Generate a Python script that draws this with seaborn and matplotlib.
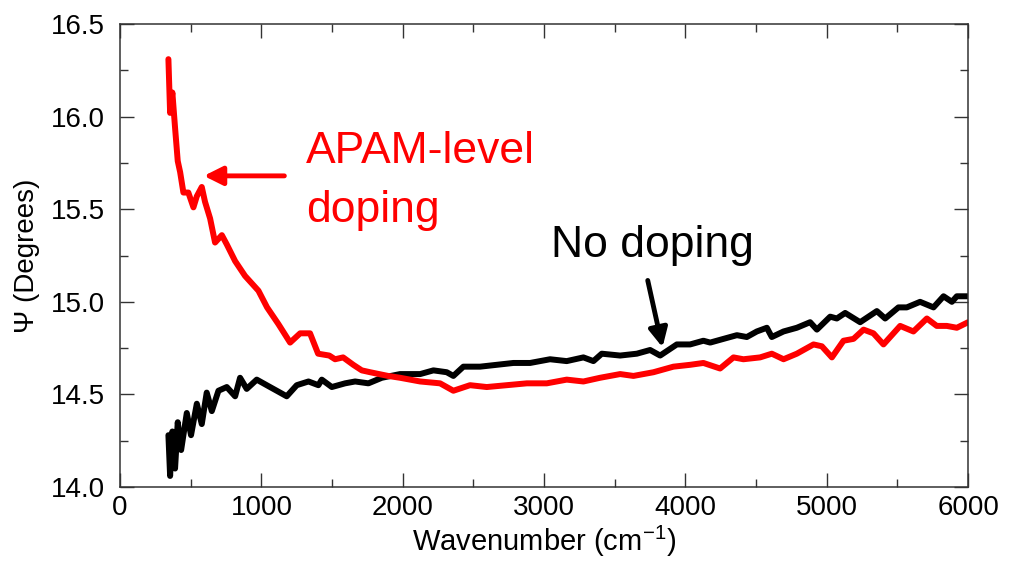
import numpy as np
import pandas as pd
import matplotlib
matplotlib.use("Agg")
import matplotlib.pyplot as plt
from matplotlib.ticker import MultipleLocator, FormatStrFormatter
import seaborn as sns

# values
doped_wn = [342, 354, 370, 389, 408, 425, 448, 483, 519, 543, 578, 601, 637, 672, 720, 755,
            814, 884, 979, 1040, 1120, 1203, 1274, 1344, 1401, 1480, 1521, 1578, 1650, 1710,
            1769, 1896, 1981, 2123, 2264, 2358, 2476, 2594, 2736, 2878, 3019, 3160, 3278,
            3396, 3538, 3632, 3774, 3915, 4033, 4127, 4245, 4340, 4410, 4528, 4611, 4694,
            4788, 4906, 4965, 5036, 5118, 5189, 5260, 5330, 5401, 5519, 5613, 5708, 5778,
            5849, 5920, 6000]
doped_psi = [16.31, 16.02, 16.13, 15.94, 15.76, 15.70, 15.59, 15.59, 15.51, 15.57, 15.62, 15.54,
             15.45, 15.32, 15.36, 15.31, 15.22, 15.14, 15.06, 14.97, 14.88, 14.78, 14.83, 14.83,
             14.72, 14.71, 14.69, 14.70, 14.66, 14.63, 14.62, 14.60, 14.59, 14.57, 14.56, 14.52,
             14.55, 14.54, 14.55, 14.56, 14.56, 14.58, 14.57, 14.59, 14.61, 14.60, 14.62, 14.65,
             14.66, 14.67, 14.64, 14.70, 14.69, 14.70, 14.72, 14.69, 14.72, 14.77, 14.76, 14.70,
             14.79, 14.80, 14.85, 14.83, 14.77, 14.87, 14.84, 14.91, 14.87, 14.87, 14.86, 14.89]

undoped_wn = [342, 354, 370, 389, 408, 432, 472, 502, 543, 578, 613, 649, 696, 755, 814, 849,
              896, 967, 1061, 1132, 1179, 1250, 1333, 1403, 1427, 1498, 1592, 1663, 1757, 1852,
              1981, 2123, 2217, 2311, 2358, 2429, 2547, 2665, 2783, 2901, 3042, 3160, 3278,
              3349, 3408, 3538, 3656, 3750, 3821, 3939, 4033, 4127, 4175, 4269, 4364, 4434,
              4505, 4576, 4611, 4694, 4788, 4882, 4930, 5024, 5071, 5130, 5236, 5354, 5413,
              5507, 5566, 5660, 5755, 5826, 5885, 5920, 6000]
undoped_psi = [14.28, 14.06, 14.30, 14.10, 14.35, 14.20, 14.40, 14.28, 14.45, 14.34, 14.51, 14.41,
               14.52, 14.54, 14.49, 14.59, 14.53, 14.58, 14.54, 14.51, 14.49, 14.55, 14.57, 14.55,
               14.58, 14.54, 14.56, 14.57, 14.56, 14.59, 14.61, 14.61, 14.63, 14.62, 14.60, 14.65,
               14.65, 14.66, 14.67, 14.67, 14.69, 14.68, 14.70, 14.68, 14.72, 14.71, 14.72, 14.74,
               14.71, 14.77, 14.77, 14.79, 14.78, 14.80, 14.82, 14.81, 14.84, 14.86, 14.81, 14.84,
               14.86, 14.89, 14.85, 14.92, 14.91, 14.94, 14.89, 14.95, 14.91, 14.97, 14.97, 15.00,
               14.97, 15.03, 15.00, 15.03, 15.03]

x_ticks = [0, 1000, 2000, 3000, 4000, 5000, 6000]
y_ticks = [14.0, 14.5, 15.0, 15.5, 16.0, 16.5]

df_doped = pd.DataFrame({"wn": doped_wn, "psi": doped_psi})
df_undoped = pd.DataFrame({"wn": undoped_wn, "psi": undoped_psi})

sns.set_style("ticks")
plt.rcParams["font.family"] = ["Liberation Sans", "DejaVu Sans"]
plt.rcParams["text.color"] = "black"
plt.rcParams["axes.labelcolor"] = "black"
plt.rcParams["xtick.labelcolor"] = "black"
plt.rcParams["ytick.labelcolor"] = "black"

fig = plt.figure(figsize=(10.09, 5.71), dpi=100)
ax = fig.add_axes([0.119, 0.147, 0.8405, 0.811])

sns.lineplot(data=df_undoped, x="wn", y="psi", ax=ax, color="black", lw=4.3,
             estimator=None, sort=False, solid_joinstyle="round")
sns.lineplot(data=df_doped, x="wn", y="psi", ax=ax, color="#ff0000", lw=4.3,
             estimator=None, sort=False, solid_joinstyle="round")

ax.set_xlim(0, 6000)
ax.set_ylim(14.0, 16.5)
ax.set_xticks(x_ticks)
ax.set_yticks(y_ticks)
ax.xaxis.set_minor_locator(MultipleLocator(500))
ax.yaxis.set_minor_locator(MultipleLocator(0.25))
ax.yaxis.set_major_formatter(FormatStrFormatter("%.1f"))
ax.tick_params(which="both", direction="in", top=True, right=True, width=1, color="#333333")
ax.tick_params(which="major", length=10, labelsize=20)
ax.tick_params(axis="x", which="major", pad=6)
ax.tick_params(axis="y", which="major", pad=11)
ax.tick_params(which="minor", length=6)
for s in ax.spines.values():
    s.set_linewidth(1.1)
    s.set_color("#333333")

ax.set_xlabel("Wavenumber (cm$^{\\mathregular{-1}}$)", fontsize=21, labelpad=2)
ax.set_ylabel("\u03a8 (Degrees)", fontsize=20, labelpad=8)

# annotations
ax.text(1316, 15.749, "APAM-level", color="#ff0000", fontsize=32, va="baseline")
ax.text(1316, 15.43, "doping", color="#ff0000", fontsize=32, va="baseline")
ax.annotate("", xy=(573, 15.68), xytext=(1182, 15.68),
            arrowprops=dict(arrowstyle="-|>", color="#ff0000", lw=3.5, mutation_scale=28))
ax.text(3050, 15.24, "No doping", color="black", fontsize=32, va="baseline")
ax.annotate("", xy=(3842, 14.74), xytext=(3729, 15.13),
            arrowprops=dict(arrowstyle="-|>", color="black", lw=3.5, mutation_scale=28))

fig.savefig("out.png", dpi=100)
